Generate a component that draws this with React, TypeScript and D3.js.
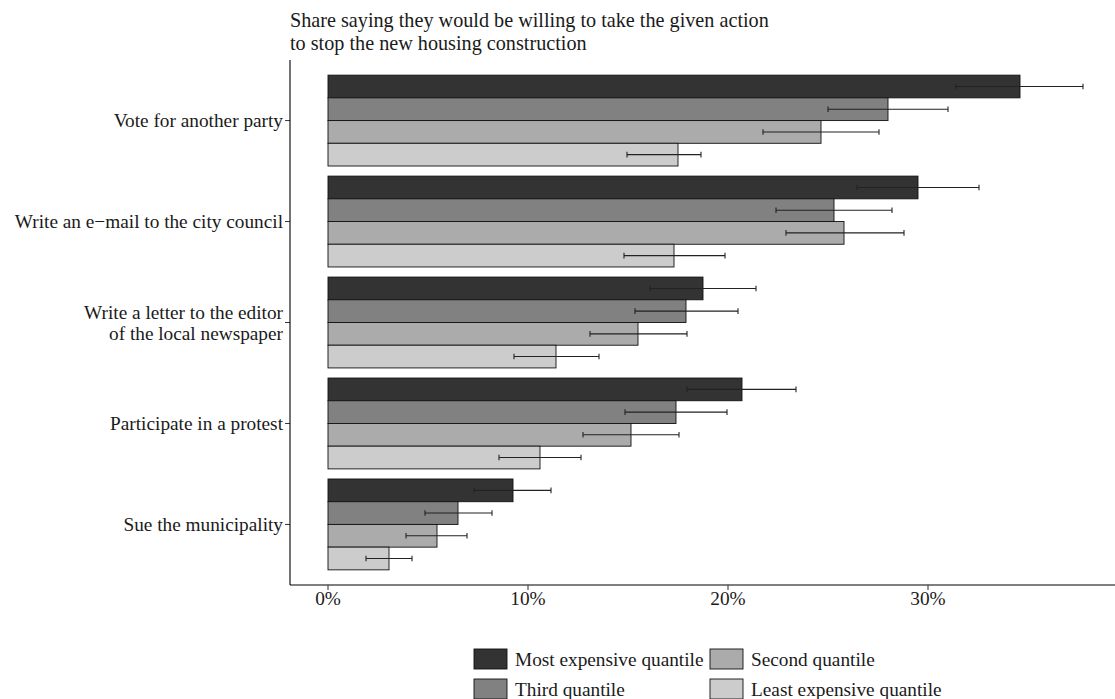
import React from "react";
import * as d3 from "d3";

const categories = [
  "Vote for another party",
  "Write an e\u2212mail to the city council",
  "Write a letter to the editor\nof the local newspaper",
  "Participate in a protest",
  "Sue the municipality",
];
const quantiles = ["Most expensive quantile", "Third quantile", "Second quantile", "Least expensive quantile"];
const fills = ["#333333", "#818181", "#ABABAB", "#CCCCCC"];

// values per category, order of quantiles
const mostExpensive = [34.6, 29.5, 18.75, 20.7, 9.25];
const thirdQ = [28.0, 25.3, 17.9, 17.4, 6.5];
const secondQ = [24.65, 25.8, 15.5, 15.15, 5.45];
const leastExpensive = [17.5, 17.3, 11.4, 10.6, 3.05];

const lowMost = [31.4, 26.45, 16.1, 17.95, 7.3];
const highMost = [37.75, 32.55, 21.4, 23.4, 11.15];
const lowThird = [25.0, 22.4, 15.35, 14.85, 4.85];
const highThird = [31.0, 28.2, 20.5, 19.95, 8.2];
const lowSecond = [21.75, 22.9, 13.1, 12.75, 3.9];
const highSecond = [27.55, 28.8, 17.95, 17.55, 6.95];
const lowLeast = [14.95, 14.8, 9.3, 8.55, 1.9];
const highLeast = [18.65, 19.85, 13.55, 12.65, 4.2];

const xTicks = [0, 10, 20, 30];
const titleLines = [
  "Share saying they would be willing to take the given action",
  "to stop the new housing construction",
];

const series = [
  { v: mostExpensive, lo: lowMost, hi: highMost },
  { v: thirdQ, lo: lowThird, hi: highThird },
  { v: secondQ, lo: lowSecond, hi: highSecond },
  { v: leastExpensive, lo: lowLeast, hi: highLeast },
];

const FONT = "'Liberation Serif', 'DejaVu Serif', serif";

export default function App() {
  const W = 1115, H = 699;
  const left = 290, top = 60, bottom = 585, right = 1115;
  const x = d3.scaleLinear().domain([0, 30]).range([328, 928]);
  const y = d3.scaleBand<string>().domain(categories).range([top, bottom]).paddingInner(0.1).paddingOuter(0.15);
  const sub = d3.scaleBand<number>().domain([0, 1, 2, 3]).range([0, y.bandwidth()]).padding(0);
  const fs = 19.3;
  const tfs = 20.2;

  return (
    <svg width={W} height={H} style={{ position: "absolute", left: 0, top: 0, background: "#fff" }} fontFamily={FONT}>
      <rect x={0} y={0} width={W} height={H} fill="#fff" />
      {titleLines.map((t, i) => (
        <text key={i} x={left} y={27 + i * 22.5} fontSize={tfs} fill="#1a1a1a">{t}</text>
      ))}
      {categories.map((c, ci) => (
        <g key={c}>
          {series.map((s, si) => {
            const y0 = (y(c) as number) + (sub(si) as number);
            const h = sub.bandwidth();
            const cy = y0 + h / 2;
            return (
              <g key={si}>
                <rect x={x(0)} y={y0} width={x(s.v[ci]) - x(0)} height={h} fill={fills[si]} stroke="#111" strokeWidth={0.9} />
                <line x1={x(s.lo[ci])} x2={x(s.hi[ci])} y1={cy} y2={cy} stroke="#222" strokeWidth={1.1} />
                <line x1={x(s.lo[ci])} x2={x(s.lo[ci])} y1={cy - 2.8} y2={cy + 2.8} stroke="#222" strokeWidth={1.1} />
                <line x1={x(s.hi[ci])} x2={x(s.hi[ci])} y1={cy - 2.8} y2={cy + 2.8} stroke="#222" strokeWidth={1.1} />
              </g>
            );
          })}
          {(() => {
            const cy = (y(c) as number) + y.bandwidth() / 2;
            const lines = c.split("\n");
            return (
              <g>
                <line x1={left - 5} x2={left} y1={cy} y2={cy} stroke="#333" strokeWidth={1} />
                {lines.map((l, li) => (
                  <text key={li} x={left - 7} y={cy + (li - (lines.length - 1) / 2) * 20.5} dy="0.35em" textAnchor="end" fontSize={fs} fill="#1a1a1a">{l}</text>
                ))}
              </g>
            );
          })()}
        </g>
      ))}
      <line x1={left} x2={left} y1={top} y2={bottom} stroke="#000" strokeWidth={1.1} />
      <line x1={left} x2={right} y1={bottom} y2={bottom} stroke="#000" strokeWidth={1.1} />
      {xTicks.map((t) => (
        <g key={t}>
          <line x1={x(t)} x2={x(t)} y1={bottom} y2={bottom + 5} stroke="#333" strokeWidth={1} />
          <text x={x(t)} y={605} textAnchor="middle" fontSize={fs} fill="#1a1a1a">{t + "%"}</text>
        </g>
      ))}
      {quantiles.map((q, i) => {
        const col = Math.floor(i / 2), row = i % 2;
        const kx = col === 0 ? 474 : 710;
        const ky = 649 + row * 30;
        return (
          <g key={q}>
            <rect x={kx} y={ky} width={33} height={20} fill={fills[i]} stroke="#111" strokeWidth={0.9} />
            <text x={kx + 41} y={ky + 17} fontSize={fs} fill="#1a1a1a">{q}</text>
          </g>
        );
      })}
    </svg>
  );
}
